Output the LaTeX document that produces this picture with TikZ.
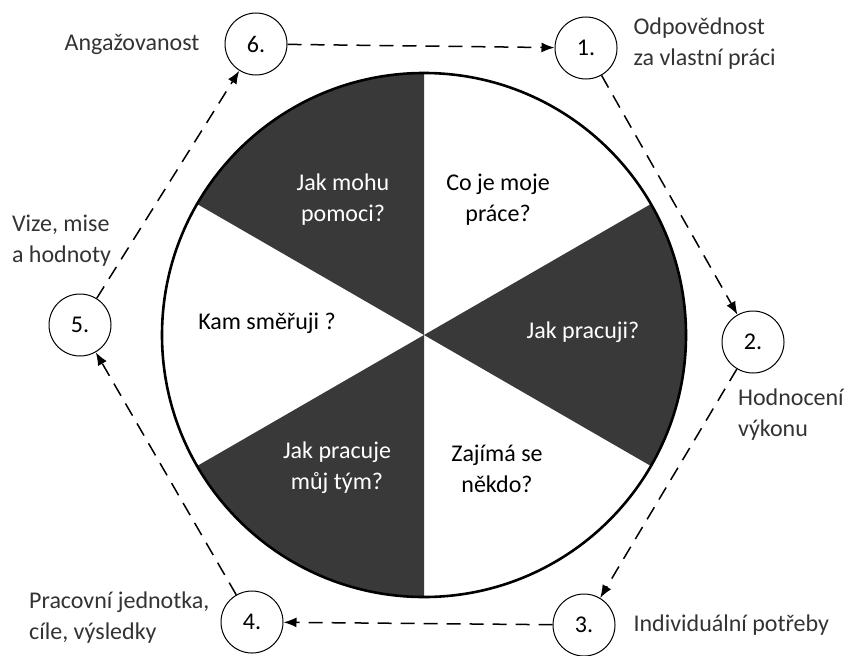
\documentclass[tikz,border=0pt]{standalone}
\usepackage{fontspec}
\setmainfont{Carlito}
\usepackage{xcolor}
\usetikzlibrary{arrows.meta,positioning}
\definecolor{sectordark}{HTML}{393939}

\begin{document}
\begin{tikzpicture}[>={Latex[length=6.5pt,width=5pt]},x=0.5pt,y=0.5pt,
  font=\fontsize{12}{15.5}\selectfont,
  stage/.style={draw,circle,minimum size=31pt,inner sep=0pt,line width=0.5pt},
  flow/.style={->,dash pattern=on 7pt off 4.5pt,line width=0.75pt},
  note/.style={align=left,text=black!80}]
  \useasboundingbox (0,0) rectangle (854,655);
  \coordinate (c) at (424,320);
  % wheel
  \foreach \a in {90,210,330}
    \fill[sectordark] (c) -- ++(\a:262) arc[start angle=\a,end angle=\a+60,radius=262] -- cycle;
  \draw[line width=1.3pt] (c) circle[radius=262];
  \node[align=center,text=white] (q6) at (343,455) {Jak mohu\\pomoci?};
  \node[align=center] (q1) at (498,455) {Co je moje\\práce?};
  \node[align=center,text=white] (q2) at (583,323) {Jak pracuji?};
  \node[align=center] (q3) at (497,186) {Zajímá se\\někdo?};
  \node[align=center,text=white] (q4) at (337,187) {Jak pracuje\\můj tým?};
  \node[align=center] (q5) at (267,332) {Kam směřuji ?};
  % stages
  \node[stage] (n6) at (256,611) {6.};
  \node[stage] (n1) at (586,607) {1.};
  \node[stage] (n2) at (753,313) {2.};
  \node[stage] (n3) at (584,30) {3.};
  \node[stage] (n4) at (252,33) {4.};
  \node[stage] (n5) at (80,330) {5.};
  \draw[flow] (n6) -- (n1);
  \draw[flow] (n1) -- (n2);
  \draw[flow] (n2) -- (n3);
  \draw[flow] (n3) -- (n4);
  \draw[flow] (n4) -- (n5);
  \draw[flow] (n5) -- (n6);
  % labels
  \node[note,left=9pt of n6] (l6) {Angažovanost};
  \node[note,right=4.5pt of n1,yshift=2pt] (l1) {Odpovědnost\\za vlastní práci};
  \node[note,anchor=west] (l2) at (731,240) {Hodnocení\\výkonu};
  \node[note,right=5.5pt of n3] (l3) {Individuální potřeby};
  \node[note,left=2pt of n4,yshift=2pt] (l4) {Pracovní jednotka,\\cíle, výsledky};
  \node[note,anchor=west] (l5) at (5,414) {Vize, mise\\a hodnoty};
\end{tikzpicture}
\end{document}
